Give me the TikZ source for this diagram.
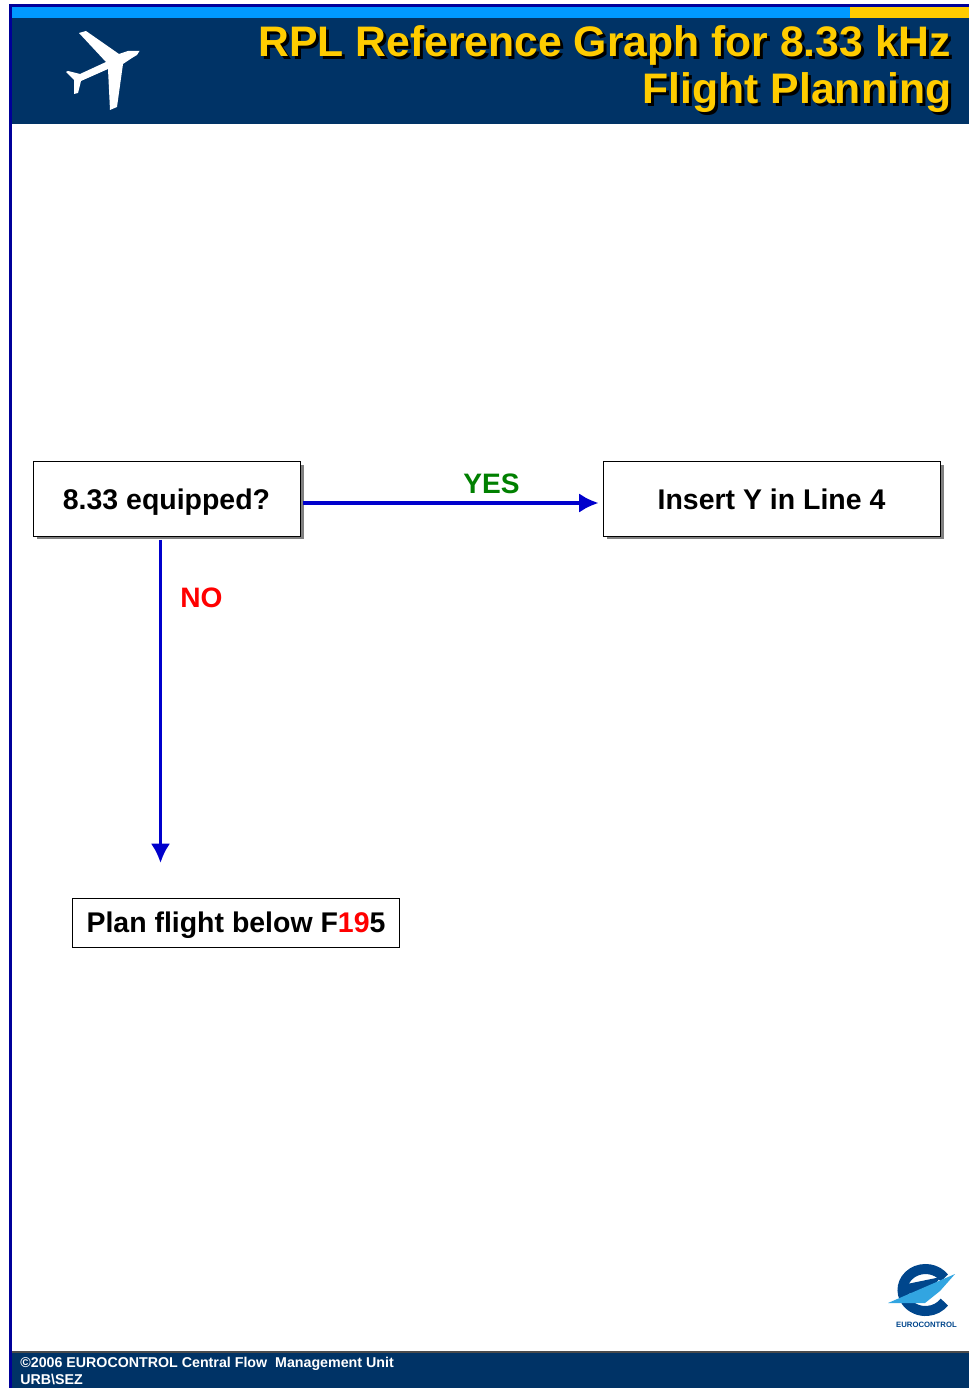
\documentclass[tikz,border=0pt]{standalone}
\usepackage{fontspec}
\usepackage{xcolor}
\usetikzlibrary{arrows.meta}
\setmainfont{Liberation Sans}
\definecolor{bannernavy}{RGB}{0,51,102}
\definecolor{framedark}{RGB}{0,0,153}
\definecolor{stripeblue}{RGB}{0,153,255}
\definecolor{stripeyellow}{RGB}{255,204,0}
\definecolor{flowblue}{RGB}{0,0,204}
\definecolor{yesgreen}{RGB}{0,128,0}
\definecolor{logoblue}{RGB}{0,70,140}
\definecolor{logosky}{RGB}{50,165,225}
\tikzset{
  stepbox/.style={draw=black,fill=white,line width=0.5pt,inner sep=0pt,align=center,text depth=0pt,font=\fontsize{16.2}{20}\bfseries\selectfont},
  flowline/.style={flowblue,line width=2pt,-{Latex[length=11pt,width=11pt]}},
  answer/.style={font=\fontsize{16}{20}\bfseries\selectfont,inner sep=0pt},
  titletext/.style={anchor=north east,align=right,inner sep=0pt,font=\fontsize{24.3}{26.7}\bfseries\selectfont}
}
\begin{document}
\begin{tikzpicture}[x=0.02cm,y=-0.02cm]
  \useasboundingbox (0,0) rectangle (969,1388);
  % frame and bands
  \fill[white] (0,0) rectangle (969,1388);
  \fill[framedark] (9,4) rectangle (969,8);
  \fill[framedark] (9,4) rectangle (12,1388);
  \fill[stripeblue] (12,7) rectangle (850,18);
  \fill[stripeyellow] (850,7) rectangle (969,18);
  \fill[bannernavy] (12,18) rectangle (969,124);
  \fill[bannernavy] (12,1352) rectangle (969,1388);
  \draw[black!70,line width=0.6pt] (12,1352)--(969,1352);
  % plane
  \fill[white] (139.5,51)--(137,55)--(132,58)--(123,64)--(117,107)--(110,110)--(108,69)--(81,81)--(78,93)--(74,94)--(74,80)--(66,72)--(68,71)--(80,74)--(106,62)--(79,33)--(86,31)--(119,54)--(128,51)--cycle;
  % title
  \node[titletext,black] (titleback) at (954.5,28) {RPL Reference Graph for 8.33 kHz\\Flight Planning};
  \node[titletext,stripeyellow] (title) at (951.5,25) {RPL Reference Graph for 8.33 kHz\\Flight Planning};
  % boxes
  \fill[gray] (37,465) rectangle (303.5,539);
  \fill[gray] (607,465) rectangle (943.5,539);
  \node[stepbox,minimum width=267*0.02cm,minimum height=75*0.02cm] (equipped) at (166.5,499) {8.33 equipped?};
  \node[stepbox,minimum width=337*0.02cm,minimum height=75*0.02cm] (insert) at (771.5,499) {Insert Y in Line 4};
  \node[stepbox,minimum width=327*0.02cm,minimum height=49*0.02cm] (below) at (236,922.5) {Plan flight below F\textcolor{red}{19}5};
  % connectors
  \coordinate (noend) at (160.5,863);
  \draw[flowline] ([shift={(3,4)}]equipped.east)--([shift={(-4,4)}]insert.west);
  \draw[flowline] ([shift={(-6,3)}]equipped.south)--(noend);
  \node[answer,yesgreen] (yes) at (491.5,484) {YES};
  \node[answer,red] (no) at (201.5,598) {NO};
  % logo
  \draw[logoblue,line width=5.7pt] (925.5,1290) ++(-35:23 and 21) arc (-35:-325:23 and 21);
  \fill[logoblue] (902,1285)--(941,1277)--(930,1290)--(902,1295)--cycle;
  \fill[logosky] (888,1303)--(955,1274)--(940,1291)--(925,1303)--cycle;
  \node[font=\fontsize{4.4}{5}\bfseries\selectfont,logoblue,inner sep=0pt] (logotext) at (926.5,1325) {EUROCONTROL};
  % footer
  \node[anchor=north west,align=left,inner sep=0pt,white,font=\fontsize{8.1}{9.4}\bfseries\selectfont] (footer) at (20,1357) {©2006 EUROCONTROL Central Flow\ \ Management Unit\\URB\textbackslash SEZ};
\end{tikzpicture}
\end{document}
